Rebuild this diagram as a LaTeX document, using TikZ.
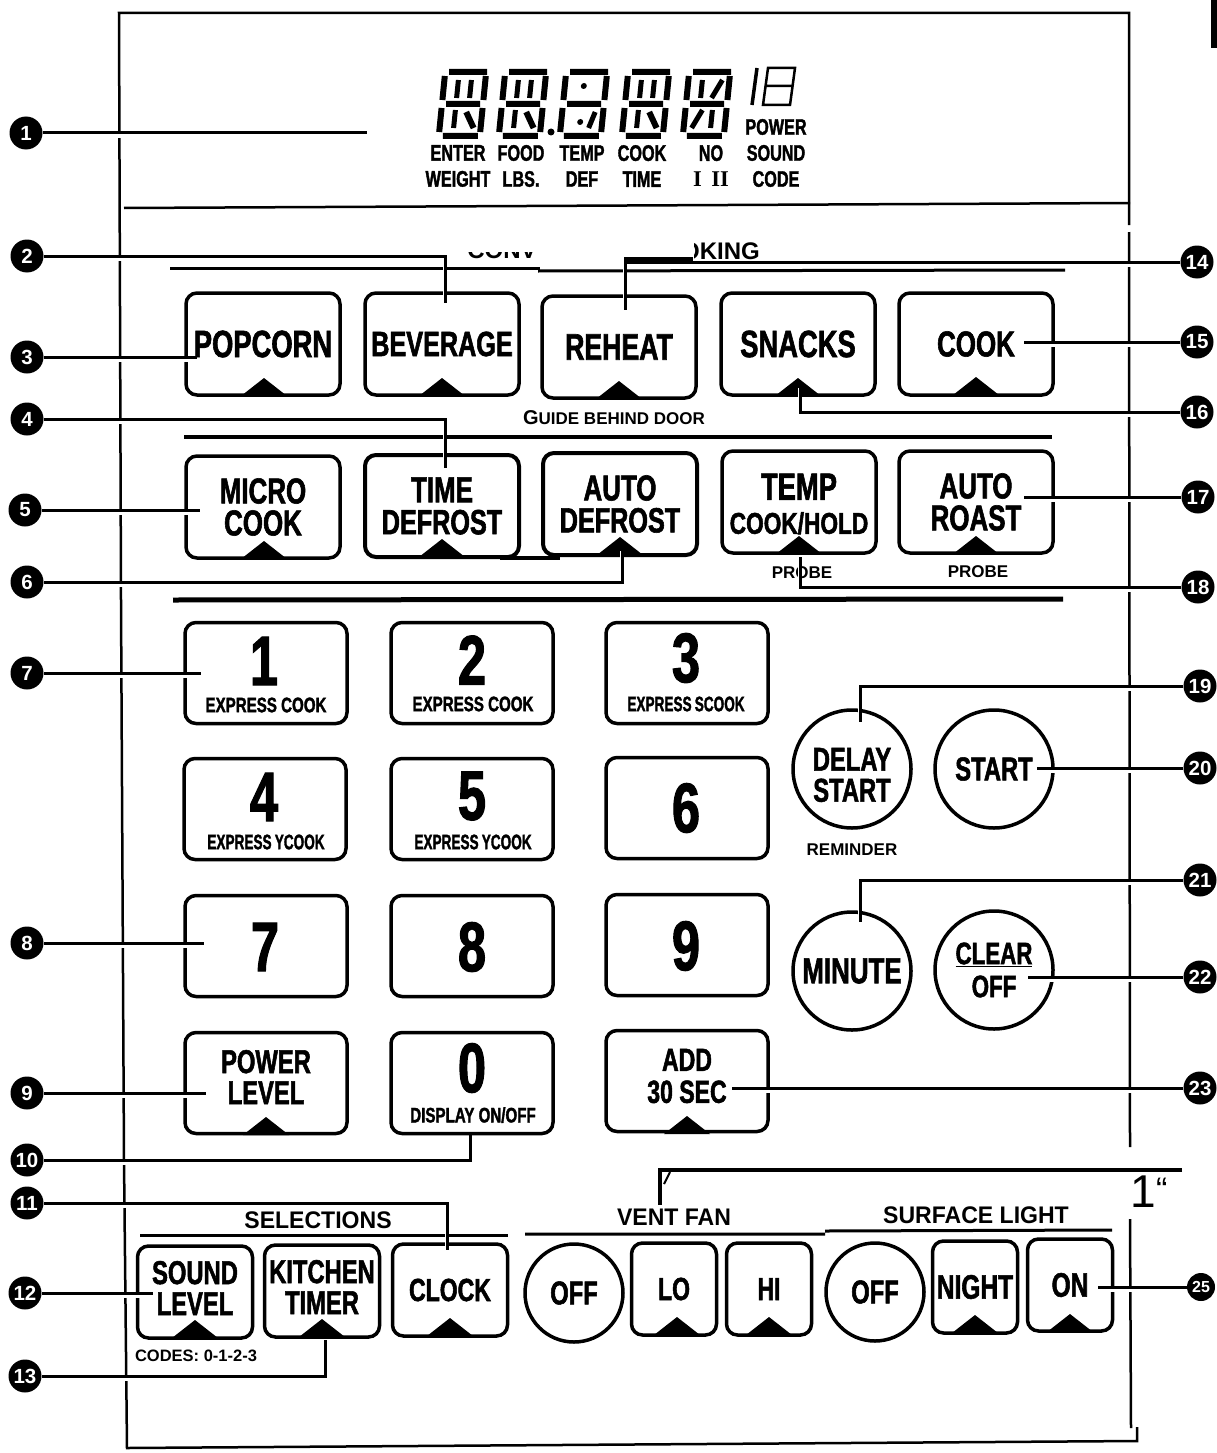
\documentclass[tikz,border=0pt]{standalone}
\usepackage{fontspec}
\usepackage{graphicx}
\setmainfont[FakeStretch=0.72,BoldFeatures={FakeBold=1.6}]{Liberation Sans}
\newfontfamily\wideface{Liberation Sans}
\newfontfamily\serifface{Liberation Serif}
\usetikzlibrary{positioning, calc}
\pgfdeclarelayer{front}
\pgfsetlayers{main,front}
\newcommand{\fs}[2]{\fontsize{#1}{#2}\selectfont\bfseries}
\newcommand{\wf}[1]{\wideface\fontsize{#1}{#1}\selectfont\bfseries}
% pointer tab of a key, x and bottom edge
\newcommand{\tabmark}[2]{\fill (#1-23,#2) -- (#1,#2-18) -- (#1+23,#2) -- cycle;}
\newcommand{\lcdframe}{%
  \draw (7,-32) -- (45,-32) (3,-28) -- (3,-4) (44,-28) -- (44,-4) (7,0) -- (41,0)
        (3,4) -- (3,28) (44,4) -- (44,28) (7,32) -- (42,32);}

\begin{document}
\begin{tikzpicture}
[x=1pt, y=-1pt, line cap=butt,
 frame/.style={line width=2.5pt},
 rule/.style={line width=3pt},
 leader/.style={line width=3pt, preaction={draw=white, line width=4pt, transform canvas={yshift=-3pt}}},
 callout/.style={circle, fill=black, text=white, inner sep=0pt, minimum size=33pt, font=\wf{20.5}},
 key/.style={rectangle, draw, line width=3.5pt, rounded corners=11pt, inner sep=0pt, align=center, font={\fs{36}{32}}},
 bigkey/.style={key, minimum width=154pt, minimum height=102pt},
 numkey/.style={key, minimum width=162pt, minimum height=101pt},
 midkey/.style={key, minimum width=115pt, minimum height=92pt},
 lowkey/.style={key, minimum width=85pt, minimum height=92pt},
 keytext/.style={inner sep=0pt, align=center, font={\fs{33}{31}}},
 roundkey/.style={circle, draw, line width=3.5pt, inner sep=0pt, align=center, minimum size=118pt, font={\fs{33}{31}}},
 roundlow/.style={roundkey, minimum size=98pt},
 note/.style={inner sep=0pt, font=\wf{17}},
 head/.style={inner sep=0pt, font={\wideface\fontsize{24}{24}\selectfont\bfseries\addfontfeature{FakeStretch=0.96}}},
 panel/.style={inner sep=0pt, align=center, font={\fs{22.5}{26}}},
 lcd/.style={line width=6pt},
 express/.style={inner sep=0pt, font={\fs{21}{21}}},
 digit/.style={inner sep=0pt, font={\fs{70}{70}}}]

\useasboundingbox (0,0) rectangle (1217,1453);

% call-out discs, kept above everything
\begin{pgfonlayer}{front}
\node[callout] (c1) at (26,133) {1};
\node[callout] (c2) at (27,256) {2};
\node[callout] (c3) at (27,357) {3};
\node[callout] (c4) at (27,419) {4};
\node[callout] (c5) at (25,510) {5};
\node[callout] (c6) at (27,582) {6};
\node[callout] (c7) at (27,673) {7};
\node[callout] (c8) at (27,943) {8};
\node[callout] (c9) at (27,1093) {9};
\node[callout] (c10) at (27,1160) {10};
\node[callout] (c11) at (27,1203) {11};
\node[callout] (c12) at (25,1293) {12};
\node[callout] (c13) at (25,1376) {13};
\node[callout] (c14) at (1197,262) {14};
\node[callout] (c15) at (1197,342) {15};
\node[callout] (c16) at (1197,412) {16};
\node[callout] (c17) at (1198,497) {17};
\node[callout] (c18) at (1198,587) {18};
\node[callout] (c19) at (1200,686) {19};
\node[callout] (c20) at (1200,768) {20};
\node[callout] (c21) at (1200,880) {21};
\node[callout] (c22) at (1200,977) {22};
\node[callout] (c23) at (1200,1088) {23};
\node[callout, minimum size=28pt, font=\wf{16}] (c25) at (1201,1287) {25};
\end{pgfonlayer}

% outline of the panel
\draw[frame] (1129,225) -- (1129,13) -- (119,13) -- (121,600) -- (124,1160) -- (127,1448) -- (1137,1441) -- (1137,1427);
\draw[frame] (1129,232) -- (1130,1147);
\draw[frame] (1130,1219) -- (1131,1428);
\draw[frame] (124,208) -- (1130,203);
\fill (1211,0) rectangle (1217,48);

% display
\begin{scope}[shift={(439,104)}, xslant=.1, lcd]
\lcdframe
\draw[line width=5pt] (17,-24) -- (17,-6) (30,-24) -- (30,-6) (17,6) -- (17,24);
\draw[line width=6pt] (28,8) -- (37,24);
\end{scope}
\begin{scope}[shift={(499,104)}, xslant=.1, lcd]
\lcdframe
\draw[line width=5pt] (17,-24) -- (17,-6) (30,-24) -- (30,-6) (17,6) -- (17,24);
\draw[line width=6pt] (28,8) -- (37,24);
\end{scope}
\fill (551,132) circle (3.5);
\begin{scope}[shift={(560,104)}, xslant=.1, lcd]
\lcdframe
\fill (22,-18) circle (3) (22,18) circle (3);
\draw[line width=5pt] (36,8) -- (31,24);
\end{scope}
\begin{scope}[shift={(622,104)}, xslant=.1, lcd]
\lcdframe
\draw[line width=5pt] (17,-24) -- (17,-6) (30,-24) -- (30,-6) (17,6) -- (17,24);
\draw[line width=6pt] (28,8) -- (37,24);
\end{scope}
\begin{scope}[shift={(683,104)}, xslant=.1, lcd]
\lcdframe
\draw[line width=5pt] (17,-24) -- (17,-6) (37,-24) -- (28,-6) (11,24) -- (20,6) (30,6) -- (30,24);
\end{scope}
\draw[line width=3.5pt] (757,68) -- (752,105);
\draw[line width=2.5pt] (768,68) -- (795,68) -- (790,105) -- (763,105) -- cycle (766,86) -- (793,86);

\node[panel] (enter) at (458,166) {ENTER\\WEIGHT};
\node[panel] (food) at (521,166) {FOOD\\LBS.};
\node[panel] (temp) at (582,166) {TEMP\\DEF};
\node[panel] (time) at (642,166) {COOK\\TIME};
\node[panel] (nosign) at (711,166) {NO\\{\serifface I\, II}};
\node[panel] (power) at (776,153) {POWER\\SOUND\\CODE};

% section rules
\draw[rule] (170,268) -- (540,268);
\draw[rule] (538,271) -- (1065,270);
\draw[rule, line width=4pt] (184,437) -- (1052,437);
\draw[rule, line width=5pt] (173,600) -- (1063,599);
\draw[rule] (140,1235) -- (508,1235);
\draw[rule] (525,1234) -- (825,1234) (825,1231) -- (1112,1230);

% keys, upper rows
\node[bigkey] (popcorn) at (263,344) {\fs{38}{32}POPCORN};
\node[bigkey] (beverage) at (442,344) {\fs{35}{32}BEVERAGE};
\node[bigkey] (reheat) at (619,347) {\fs{37}{32}REHEAT};
\node[bigkey] (snacks) at (798,344) {\fs{38}{32}SNACKS};
\node[bigkey] (cook) at (976,344) {COOK};
\node[bigkey] (micro) at (263,507) {MICRO\\COOK};
\node[bigkey, line width=4pt] (timedef) at (442,506) {TIME\\\fs{35}{32}DEFROST};
\node[bigkey, line width=4pt] (autodef) at (620,504) {AUTO\\\fs{35}{32}DEFROST};
\node[bigkey] (tempkey) at (799,502) {};
\node[keytext, font={\fs{38}{34}}] (templabel) at (799,504) {TEMP\\\fs{30}{34}\scalebox{1.05}[1]{COOK/HOLD}};
\node[bigkey] (roast) at (976,502) {AUTO\\ROAST};
\draw[rule, line width=4pt] (500,558) -- (560,558);
\tabmark{264}{396}
\tabmark{442}{396}
\tabmark{619}{399}
\tabmark{798}{396}
\tabmark{976}{395}
\tabmark{264}{559}
\tabmark{442}{557}
\tabmark{620}{555}
\tabmark{799}{554}
\tabmark{976}{554}

\node[note] (guide) at (614,418) {{\fontsize{20}{20}\selectfont G}UIDE BEHIND DOOR};
\node[note] (probea) at (802,573) {PROBE};
\node[note] (probeb) at (978,572) {PROBE};

% number pad
\node[numkey] (k1) at (266,673) {};
\node[numkey] (k2) at (472,673) {};
\node[numkey] (k3) at (687,673) {};
\node[numkey] (k4) at (265,809) {};
\node[numkey] (k5) at (472,809) {};
\node[numkey] (k6) at (687,808) {};
\node[numkey] (k7) at (266,946) {};
\node[numkey] (k8) at (472,946) {};
\node[numkey] (k9) at (687,945) {};
\node[numkey] (kpower) at (266,1083) {};
\node[numkey] (k0) at (472,1083) {};
\node[numkey] (kadd) at (687,1081) {};
\tabmark{266}{1135}
\tabmark{687}{1134}
\node[keytext] (powerlabel) at (266,1077) {POWER\\LEVEL};
\node[keytext, font={\fs{32}{32}}] (addlabel) at (687,1076) {ADD\\30 SEC};

\node[digit] (n1) at (264,661) {1};
\node[digit] (n2) at (472,660) {2};
\node[digit] (n3) at (686,658) {3};
\node[digit] (n4) at (264,797) {4};
\node[digit] (n5) at (472,796) {5};
\node[digit] (n6) at (686,808) {6};
\node[digit] (n7) at (265,947) {7};
\node[digit] (n8) at (472,947) {8};
\node[digit] (n9) at (686,946) {9};
\node[digit] (n0) at (472,1068) {0};
\node[express] (e1) at (266,705) {EXPRESS COOK};
\node[express] (e2) at (473,704) {EXPRESS COOK};
\node[express] (e3) at (686,704) {\scalebox{.9}[1]{EXPRESS\,SCOOK}};
\node[express] (e4) at (266,842) {\scalebox{.9}[1]{EXPRESS\,YCOOK}};
\node[express] (e5) at (473,842) {\scalebox{.9}[1]{EXPRESS\,YCOOK}};
\node[express] (e0) at (473,1115) {DISPLAY ON/OFF};

% round keys
\node[roundkey] (delay) at (852,769) {};
\node[keytext] (delaylabel) at (852,775) {DELAY\\START};
\node[roundkey] (startkey) at (994,769) {START};
\node[roundkey, font={\fs{36}{31}}] (minute) at (852,971) {MINUTE};
\node[roundkey, font={\fs{31}{33}}] (clear) at (994,970) {\underline{CLEAR}\\OFF};
\node[note] (reminder) at (852,850) {REMINDER};

% bottom row
\node[head] (selections) at (318,1220) {SELECTIONS};
\node[head] (vent) at (674,1217) {VENT FAN};
\node[head] (surface) at (976,1215) {SURFACE LIGHT};
\node[midkey] (sound) at (195,1292) {};
\node[midkey] (kitchen) at (322,1291) {};
\node[midkey, font={\fs{32}{31}}] (clock) at (450,1290) {CLOCK};
\node[roundlow] (fanoff) at (574,1293) {OFF};
\node[lowkey, font={\fs{32}{31}}] (lo) at (674,1289) {LO};
\node[lowkey, font={\fs{32}{31}}] (hi) at (769,1289) {HI};
\node[roundlow] (lightoff) at (875,1292) {OFF};
\node[lowkey, font={\fs{34}{31}}] (night) at (975,1287) {NIGHT};
\node[lowkey, font={\fs{34}{31}}] (on) at (1070,1285) {ON};
\tabmark{195}{1338}
\tabmark{322}{1337}
\tabmark{450}{1336}
\tabmark{677}{1335}
\tabmark{769}{1335}
\tabmark{975}{1333}
\tabmark{1070}{1332}
\node[keytext] (soundlabel) at (195,1288) {SOUND\\LEVEL};
\node[keytext] (kitchenlabel) at (322,1287) {KITCHEN\\TIMER};
\node[note, font=\wf{16.5}] (codes) at (196,1356) {CODES: 0-1-2-3};

% heading with a piece pasted over it
\begin{scope}
\clip (460,252) rectangle (537,265);
\node[inner sep=0pt, font=\wf{24}] (conv) at (502,250) {CONV};
\end{scope}
\begin{scope}
\clip (694,235) rectangle (780,265);
\node[inner sep=0pt, anchor=east, font=\wf{24}] (king) at (760,251) {COOKING};
\end{scope}

% leader ends
\coordinate (t1) at (367,133);
\coordinate (t2) at (445,303);
\coordinate (t3) at (197,357);
\coordinate (t4) at (445,468);
\coordinate (t5) at (200,510);
\coordinate (t6) at (622,548);
\coordinate (t7) at (201,673);
\coordinate (t8) at (204,943);
\coordinate (t9) at (206,1093);
\coordinate (t10) at (470,1135);
\coordinate (t11) at (447,1250);
\coordinate (t12) at (153,1293);
\coordinate (t13) at (325,1340);
\coordinate (t14) at (625,310);
\coordinate (t15) at (1024,342);
\coordinate (t16) at (800,385);
\coordinate (t17) at (1024,497);
\coordinate (t18) at (800,557);
\coordinate (t19) at (860,722);
\coordinate (t20) at (1037,768);
\coordinate (t21) at (860,922);
\coordinate (t22) at (1028,977);
\coordinate (t23) at (732,1088);
\coordinate (t25) at (1098,1287);
\coordinate (fanfree) at (1182,1170);
\coordinate (fanend) at (660,1205);

% leaders
\draw[leader] (c1) -- (t1);
\draw[leader] (c2) -| (t2);
\draw[leader] (c3) -- (t3);
\draw[leader] (c4) -| (t4);
\draw[leader] (c5) -- (t5);
\draw[leader] (c6) -| (t6);
\draw[leader] (c7) -- (t7);
\draw[leader] (c8) -- (t8);
\draw[leader] (c9) -- (t9);
\draw[leader] (c10) -| (t10);
\draw[leader] (c11) -| (t11);
\draw[leader] (c12) -- (t12);
\draw[leader] (c13) -| (t13);
\draw[leader] (c14) -| (t14);
\draw[line width=5pt] (624,259.5) -- (693,259.5);
\draw[leader] (c15) -- (t15);
\draw[leader] (c16) -| (t16);
\draw[leader] (c17) -- (t17);
\draw[leader] (c18) -| (t18);
\draw[leader] (c19) -| (t19);
\draw[leader] (c20) -- (t20);
\draw[leader] (c21) -| (t21);
\draw[leader] (c22) -- (t22);
\draw[leader] (c23) -- (t23);
\draw[leader] (c25) -- (t25);
\draw[leader, line width=4pt] (fanfree) -| (fanend);
\draw[line width=2pt] (670,1172) -- (664,1184);

\node[inner sep=0pt, font={\wideface\fontsize{46}{46}\selectfont}] (inch) at (1149,1192) {1\raisebox{6pt}{\fontsize{34}{34}\selectfont“}};

\end{tikzpicture}
\end{document}
